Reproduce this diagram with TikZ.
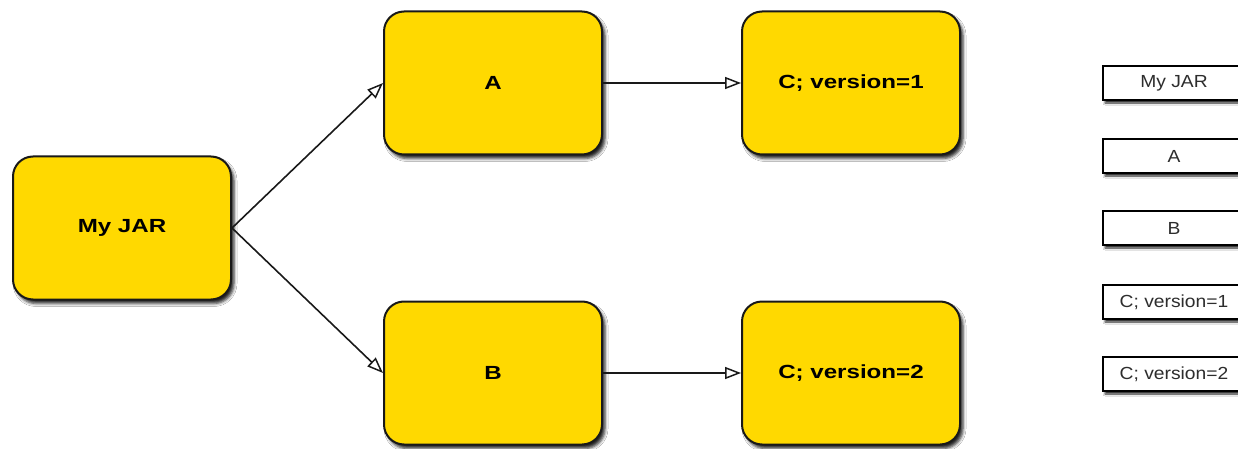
\documentclass[tikz,border=0pt]{standalone}
\usepackage{fontspec}
\usepackage{graphicx}
\setmainfont{Liberation Sans}
\usetikzlibrary{arrows.meta,shadows.blur}
\definecolor{boxyellow}{RGB}{255,217,0}
\definecolor{labelgray}{RGB}{45,45,45}
\tikzset{
  bigbox/.style={draw=black!90, line width=2pt, fill=boxyellow, rounded corners=20pt,
    minimum width=218pt, minimum height=143pt, inner sep=0pt,
    font=\fontsize{19}{21}\selectfont\bfseries,
    blur shadow={shadow xshift=3pt, shadow yshift=-4pt, shadow blur radius=3pt, shadow opacity=85}},
  smallbox/.style={draw=black, line width=1.8pt, fill=white,
    minimum width=142pt, minimum height=34pt, inner sep=0pt, text=labelgray,
    font=\fontsize{17.5}{19}\selectfont,
    blur shadow={shadow xshift=2pt, shadow yshift=-3pt, shadow blur radius=2pt, shadow opacity=85}},
  conn/.style={line width=1.6pt, draw=black!90, -{Triangle[open, length=16pt, width=12pt, line width=1.5pt]}}
}
\newcommand{\wide}[1]{\scalebox{1.27}[1]{#1}}
\newcommand{\widesm}[1]{\scalebox{1.1}[1]{#1}}
\begin{document}
\begin{tikzpicture}[x=1pt,y=-1pt]
\clip (0,0) rectangle (1238,449);
\fill[white] (0,0) rectangle (1238,449);
\node[bigbox] (jar) at (122,228) {\wide{My JAR}};
\node[bigbox] (a) at (493,83) {\wide{A}};
\node[bigbox] (b) at (493,373) {\wide{B}};
\node[bigbox] (c1) at (851,83) {\wide{C; version=1}};
\node[bigbox] (c2) at (851,373) {\wide{C; version=2}};
\draw[conn] (jar.east) -- (a.west);
\draw[conn] (jar.east) -- (b.west);
\draw[conn] (a.east) -- (c1.west);
\draw[conn] (b.east) -- (c2.west);
\node[smallbox] (lj) at (1174,83) {\widesm{My JAR}};
\node[smallbox] (la) at (1174,156) {\widesm{A}};
\node[smallbox] (lb) at (1174,228) {\widesm{B}};
\node[smallbox] (lc1) at (1174,302) {\widesm{C; version=1}};
\node[smallbox] (lc2) at (1174,374) {\widesm{C; version=2}};
\end{tikzpicture}
\end{document}
